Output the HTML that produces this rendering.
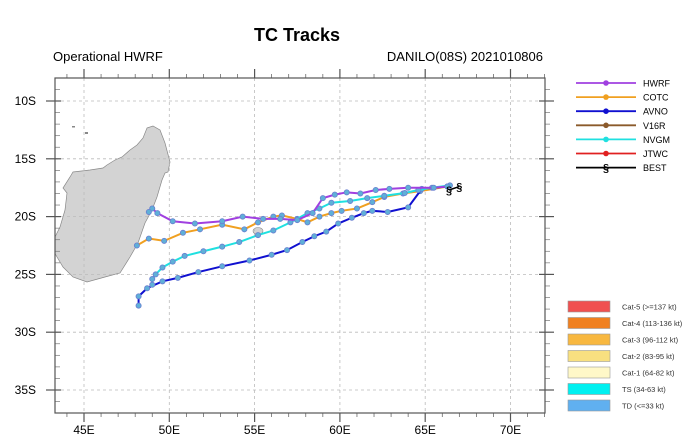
<!DOCTYPE html>
<html><head><meta charset="utf-8"><style>
body{margin:0;background:#fff;}
svg{display:block;font-family:"Liberation Sans",Arial,sans-serif;}
</style></head><body>
<svg id="c" width="699" height="438" viewBox="0 0 699 438">
<text x="297" y="41" text-anchor="middle" font-size="18" font-weight="bold">TC Tracks</text>
<text x="53" y="61" font-size="13">Operational HWRF</text>
<text x="543" y="61" text-anchor="end" font-size="13">DANILO(08S) 2021010806</text>
<defs><clipPath id="pc"><rect x="55" y="78" width="490" height="335"/></clipPath></defs>
<g clip-path="url(#pc)">
<path fill="#d3d3d3" stroke="#888" stroke-width="0.7" d="M147,128 L153,126 L160,130 L165,143 L170,162 L168,172 L165,173 L162,180 L157,197 L152,210 L145,223 L138,243 L130,257 L120,273 L105,277 L87,282 L73,277 L63,267 L57,257 L50,245 L55,237 L60,227 L65,210 L67,193 L63,188 L70,177 L73,172 L90,170 L103,168 L107,165 L115,160 L122,157 L130,150 L137,145 L143,138 Z"/>
<ellipse cx="258" cy="231" rx="5" ry="3.5" fill="#d3d3d3" stroke="#888" stroke-width="0.6"/>
<rect x="72" y="126" width="3" height="1.5" fill="#888"/>
<rect x="85" y="132" width="3" height="2" fill="#888"/>
</g>
<g id="axes"></g>
<g id="tracks" clip-path="url(#pc)"></g>
<g id="legend"></g>
</svg>
<script>
const lonTicks=[45,50,55,60,65,70];
const latTicks=[10,15,20,25,30,35];
const hwrfLon=[66.3,65.5,64.0,62.9,62.1,61.2,60.4,59.7,59.0,58.4,57.5,56.5,55.5,54.3,53.1,51.5,50.2,49.3,49.0,48.8];
const hwrfLat=[17.4,17.5,17.5,17.6,17.7,18.0,17.9,18.1,18.4,19.7,20.3,20.2,20.2,20.0,20.4,20.6,20.4,19.7,19.3,19.6];
const cotcLon=[66.3,64.7,63.7,62.6,61.9,61.0,60.1,59.5,58.8,58.1,57.5,56.6,56.1,55.2,54.4,53.1,51.8,50.8,49.7,48.8,48.1];
const cotcLat=[17.4,17.8,18.0,18.3,18.75,19.3,19.5,19.7,20.0,20.5,20.2,19.9,20.0,20.5,21.1,20.7,21.1,21.4,22.1,21.9,22.5];
const avnoLon=[66.3,64.8,64.0,62.8,61.9,61.4,60.7,59.9,59.2,58.5,57.8,56.9,56.0,54.7,53.1,51.7,50.5,49.6,48.7,48.2,48.2];
const avnoLat=[17.4,17.6,19.2,19.6,19.5,19.7,20.1,20.6,21.3,21.7,22.2,22.9,23.3,23.8,24.3,24.8,25.3,25.6,26.2,26.9,27.7];
const nvgmLon=[66.45,65.4,64.6,63.8,62.6,61.6,60.6,59.5,58.8,58.1,57.1,56.1,55.2,54.1,53.1,52.0,50.9,50.2,49.6,49.2,49.0,49.0];
const nvgmLat=[17.3,17.5,17.7,17.96,18.2,18.4,18.65,18.8,19.3,19.7,20.5,21.2,21.6,22.2,22.6,23.0,23.4,23.9,24.4,25.0,25.4,25.9];
const bestLon=[66.4,67.0];
const bestLat=[17.7,17.4];
const modelNames=["HWRF","COTC","AVNO","V16R","NVGM","JTWC","BEST"];
const modelColors=["#a040e0","#f0a020","#1010d0","#8b5a2b","#20e0e0","#e02020","#000"];
const catLabels=["Cat-5 (>=137 kt)","Cat-4 (113-136 kt)","Cat-3 (96-112 kt)","Cat-2 (83-95 kt)","Cat-1 (64-82 kt)","TS (34-63 kt)","TD (<=33 kt)"];
const catColors=["#f05050","#f08020","#f8b840","#f8e080","#fff8c8","#00f0f0","#60b0f0"];

const L=55,R=545,T=78,B=413;
const xs=lon=>84+(lon-45)*17.06;
const ys=lat=>101+(lat-10)*11.56;
const NS="http://www.w3.org/2000/svg";
function mk(tag,attrs,parent){const e=document.createElementNS(NS,tag);for(const k in attrs)e.setAttribute(k,attrs[k]);parent.appendChild(e);return e;}
const ax=document.getElementById('axes');
// grid
lonTicks.forEach(v=>{const g=mk('line',{x1:xs(v),x2:xs(v),y1:T,y2:B,stroke:'#bbb','stroke-dasharray':'3,3','stroke-width':0.8},ax);


const t=mk('text',{x:xs(v),y:434,'text-anchor':'middle','font-size':12},ax);t.textContent=v+'E';

});
latTicks.forEach(v=>{const g=mk('line',{x1:L,x2:R,y1:ys(v),y2:ys(v),stroke:'#bbb','stroke-dasharray':'3,3','stroke-width':0.8},ax);


const t=mk('text',{x:36,y:ys(v)+4,'text-anchor':'end','font-size':12},ax);t.textContent=v+'S';

});
// ticks
for(let lon=44;lon<=72;lon++){const x=xs(lon);if(x<L||x>R)continue;const maj=lon%5===0;const len=maj?9:4;
mk('line',{x1:x,x2:x,y1:B,y2:B+len,stroke:'#555','stroke-width':maj?1.2:0.7},ax);
mk('line',{x1:x,x2:x,y1:T,y2:T-len,stroke:'#555','stroke-width':maj?1.2:0.7},ax);}
for(let lat=8;lat<=37;lat++){const y=ys(lat);if(y<T||y>B)continue;const maj=lat%5===0;
if(maj){mk('line',{x1:L-9,x2:L+6,y1:y,y2:y,stroke:'#555','stroke-width':1.2},ax);mk('line',{x1:R-6,x2:R+9,y1:y,y2:y,stroke:'#555','stroke-width':1.2},ax);}
else{mk('line',{x1:L,x2:L+5,y1:y,y2:y,stroke:'#777','stroke-width':0.7},ax);mk('line',{x1:R,x2:R+5,y1:y,y2:y,stroke:'#777','stroke-width':0.7},ax);}}
const fr=mk('rect',{x:L,y:T,width:R-L,height:B-T,fill:'none',stroke:'#555','stroke-width':1.2},ax);


// tracks
const tr=document.getElementById('tracks');
function track(lons,lats,color,name){
const g=mk('g',{},tr);


mk('polyline',{points:lons.map((v,i)=>xs(v)+','+ys(lats[i])).join(' '),fill:'none',stroke:color,'stroke-width':2},g);
lons.forEach((v,i)=>{const c=mk('circle',{cx:xs(v),cy:ys(lats[i]),r:2.6,fill:'#5fb0d8',stroke:'#6a7fd0','stroke-width':0.8},g);

});}
track(cotcLon,cotcLat,modelColors[1],'cotc');
track(avnoLon,avnoLat,modelColors[2],'avno');
track(nvgmLon,nvgmLat,modelColors[4],'nvgm');
track(hwrfLon,hwrfLat,modelColors[0],'hwrf');
const bg=mk('g',{},tr);


mk('polyline',{points:bestLon.map((v,i)=>xs(v)+','+ys(bestLat[i])).join(' '),fill:'none',stroke:'#000','stroke-width':1.5},bg);
bestLon.forEach((v,i)=>{const t=mk('text',{x:xs(v),y:ys(bestLat[i])+4,'text-anchor':'middle','font-size':11,'font-weight':'bold',fill:'#000'},bg);t.textContent='§';

});
// legend
const lg=document.getElementById('legend');
modelNames.forEach((n,i)=>{const y=83+i*14.1;const g=mk('g',{},lg);


mk('line',{x1:576,x2:636,y1:y,y2:y,stroke:modelColors[i],'stroke-width':1.8},g);
if(i<6)mk('circle',{cx:606,cy:y,r:2.8,fill:modelColors[i]},g);
else{const s=mk('text',{x:606,y:y+4,'text-anchor':'middle','font-size':11,'font-weight':'bold'},g);s.textContent='§';}
const t=mk('text',{x:643,y:y+3.5,'font-size':9},g);t.textContent=n;});
catLabels.forEach((n,i)=>{const y=301+i*16.5;const g=mk('g',{},lg);


mk('rect',{x:568,y:y,width:42,height:11,fill:catColors[i],stroke:'#999','stroke-width':0.6},g);
const t=mk('text',{x:622,y:y+8.5,'font-size':7.5,fill:'#333'},g);t.textContent=n;});
</script>
</body></html>
